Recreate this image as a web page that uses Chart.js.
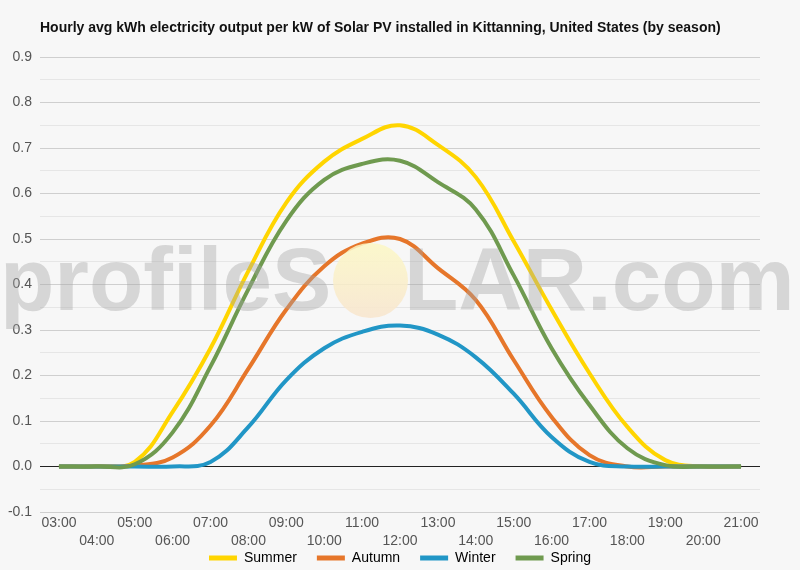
<!DOCTYPE html>
<html>
<head>
<meta charset="utf-8">
<script src="https://cdn.jsdelivr.net/npm/chart.js@4.4.1/dist/chart.umd.min.js"></script>
<style>
  html, body { margin: 0; padding: 0; background: #f7f7f7; }
  #wrap { position: relative; width: 800px; height: 570px; overflow: hidden; }
  #chart { position: absolute; left: 0; top: 0; }
  #title { position: absolute; left: 40px; top: 19px; font: bold 14px 'Liberation Sans', Arial, sans-serif; color: #111; white-space: nowrap; }
  .wm { position: absolute; top: 235px; font: bold 89px/89px 'Liberation Sans', Arial, sans-serif; color: rgba(165,165,165,0.4); pointer-events: none; white-space: nowrap; }
  #sun { position: absolute; left: 333px; top: 243px; width: 75px; height: 75px; border-radius: 50%;
         background: linear-gradient(#fcf8c4, #f8e5cd); opacity: 0.85; pointer-events: none; }
</style>
</head>
<body>
<div id="wrap">
  <canvas id="chart"></canvas>
  <div id="title">Hourly avg kWh electricity output per kW of Solar PV installed in Kittanning, United States (by season)</div>
  <div class="wm" style="left:0px">profileS</div>
  <div id="sun"></div>
  <div class="wm" style="left:404px">LAR.com</div>
</div>
<script>
// hourly averages
const hours = ['03:00', '04:00', '05:00', '06:00', '07:00', '08:00', '09:00', '10:00', '11:00', '12:00',
  '13:00', '14:00', '15:00', '16:00', '17:00', '18:00', '19:00', '20:00', '21:00'];
const summer = [0, 0.001, 0.01, 0.12, 0.26, 0.43, 0.58, 0.67, 0.72, 0.75, 0.707, 0.636, 0.495, 0.345, 0.205, 0.087, 0.014, 0, 0];
const autumn = [0, 0, 0.002, 0.02, 0.09, 0.215, 0.345, 0.44, 0.49, 0.50, 0.436, 0.366, 0.234, 0.109, 0.025, 0, 0, 0, 0];
const winter = [0, 0, 0, 0, 0.01, 0.087, 0.19, 0.26, 0.296, 0.31, 0.29, 0.24, 0.16, 0.065, 0.01, 0, 0, 0, 0];
const spring = [0, 0, 0.005, 0.075, 0.22, 0.39, 0.54, 0.63, 0.665, 0.672, 0.625, 0.565, 0.42, 0.26, 0.135, 0.04, 0.003, 0, 0];

const COLORS = { summer: '#FFD500', autumn: '#E6762A', winter: '#2196C6', spring: '#6F9A4F' };
const FONT = "'Liberation Sans', Arial, sans-serif";

Chart.defaults.font.family = FONT;
Chart.defaults.color = '#555';

function series(label, data, color, order) {
  return {
    label, data, order,
    borderColor: color, backgroundColor: color,
    borderWidth: 4, tension: 0.4, pointRadius: 0, pointHoverRadius: 0, fill: false,
  };
}

// the x axis box is kept short so the legend sits close; let its labels spill below it
const labelRoom = {
  id: 'labelRoom',
  afterLayout(chart) { chart.scales.x.bottom = chart.height; },
};

const canvas = document.getElementById('chart');
canvas.width = 800; canvas.height = 570;

new Chart(canvas.getContext('2d'), {
  type: 'line',
  data: {
    labels: hours,
    datasets: [
      series('Summer', summer, COLORS.summer, 3),
      series('Autumn', autumn, COLORS.autumn, 2),
      series('Winter', winter, COLORS.winter, 1),
      series('Spring', spring, COLORS.spring, 0),
    ],
  },
  plugins: [labelRoom],
  options: {
    responsive: false, animation: false, devicePixelRatio: 1,
    layout: { padding: { left: 0, right: 0, top: 57, bottom: -5 } },
    plugins: {
      title: { display: false },
      tooltip: { enabled: false },
      legend: {
        position: 'bottom',
        labels: {
          boxWidth: 28, boxHeight: 5, padding: 20, color: '#333', font: { size: 14 },
          generateLabels: (chart) => chart.data.datasets.map((ds, i) => ({
            text: ds.label, fillStyle: ds.borderColor, strokeStyle: ds.borderColor,
            lineWidth: 0, hidden: false, datasetIndex: i,
          })),
        },
      },
    },
    scales: {
      x: {
        offset: true,
        grid: { display: false, drawTicks: false },
        border: { display: false },
        afterFit: (s) => { s.height = 19; },
        ticks: {
          autoSkip: false, maxRotation: 0, padding: 2, font: { size: 14, lineHeight: 18 / 14 },
          callback: (v, i) => (i % 2 === 0 ? [hours[i], ''] : ['', hours[i]]),
        },
      },
      y: {
        min: -0.1, max: 0.9,
        afterFit: (s) => { s.width = 40; },
        border: { display: false },
        grid: {
          drawTicks: false,
          color: (c) => {
            const k = Math.round(c.tick.value * 100);
            if (k === 0) return '#222';
            return k % 10 === 0 ? '#cfcfcf' : '#e6e6e6';
          },
        },
        ticks: {
          stepSize: 0.05, padding: 8, font: { size: 14 },
          callback: (v) => (Math.round(v * 100) % 10 === 0 ? v.toFixed(1) : ''),
        },
      },
      // empty right-hand box keeping the plot 40px short of the right edge
      yRight: {
        position: 'right', display: true,
        afterFit: (s) => { s.width = 40; },
        grid: { display: false, drawTicks: false },
        border: { display: false },
        ticks: { display: false },
      },
    },
  },
});
</script>
</body>
</html>
